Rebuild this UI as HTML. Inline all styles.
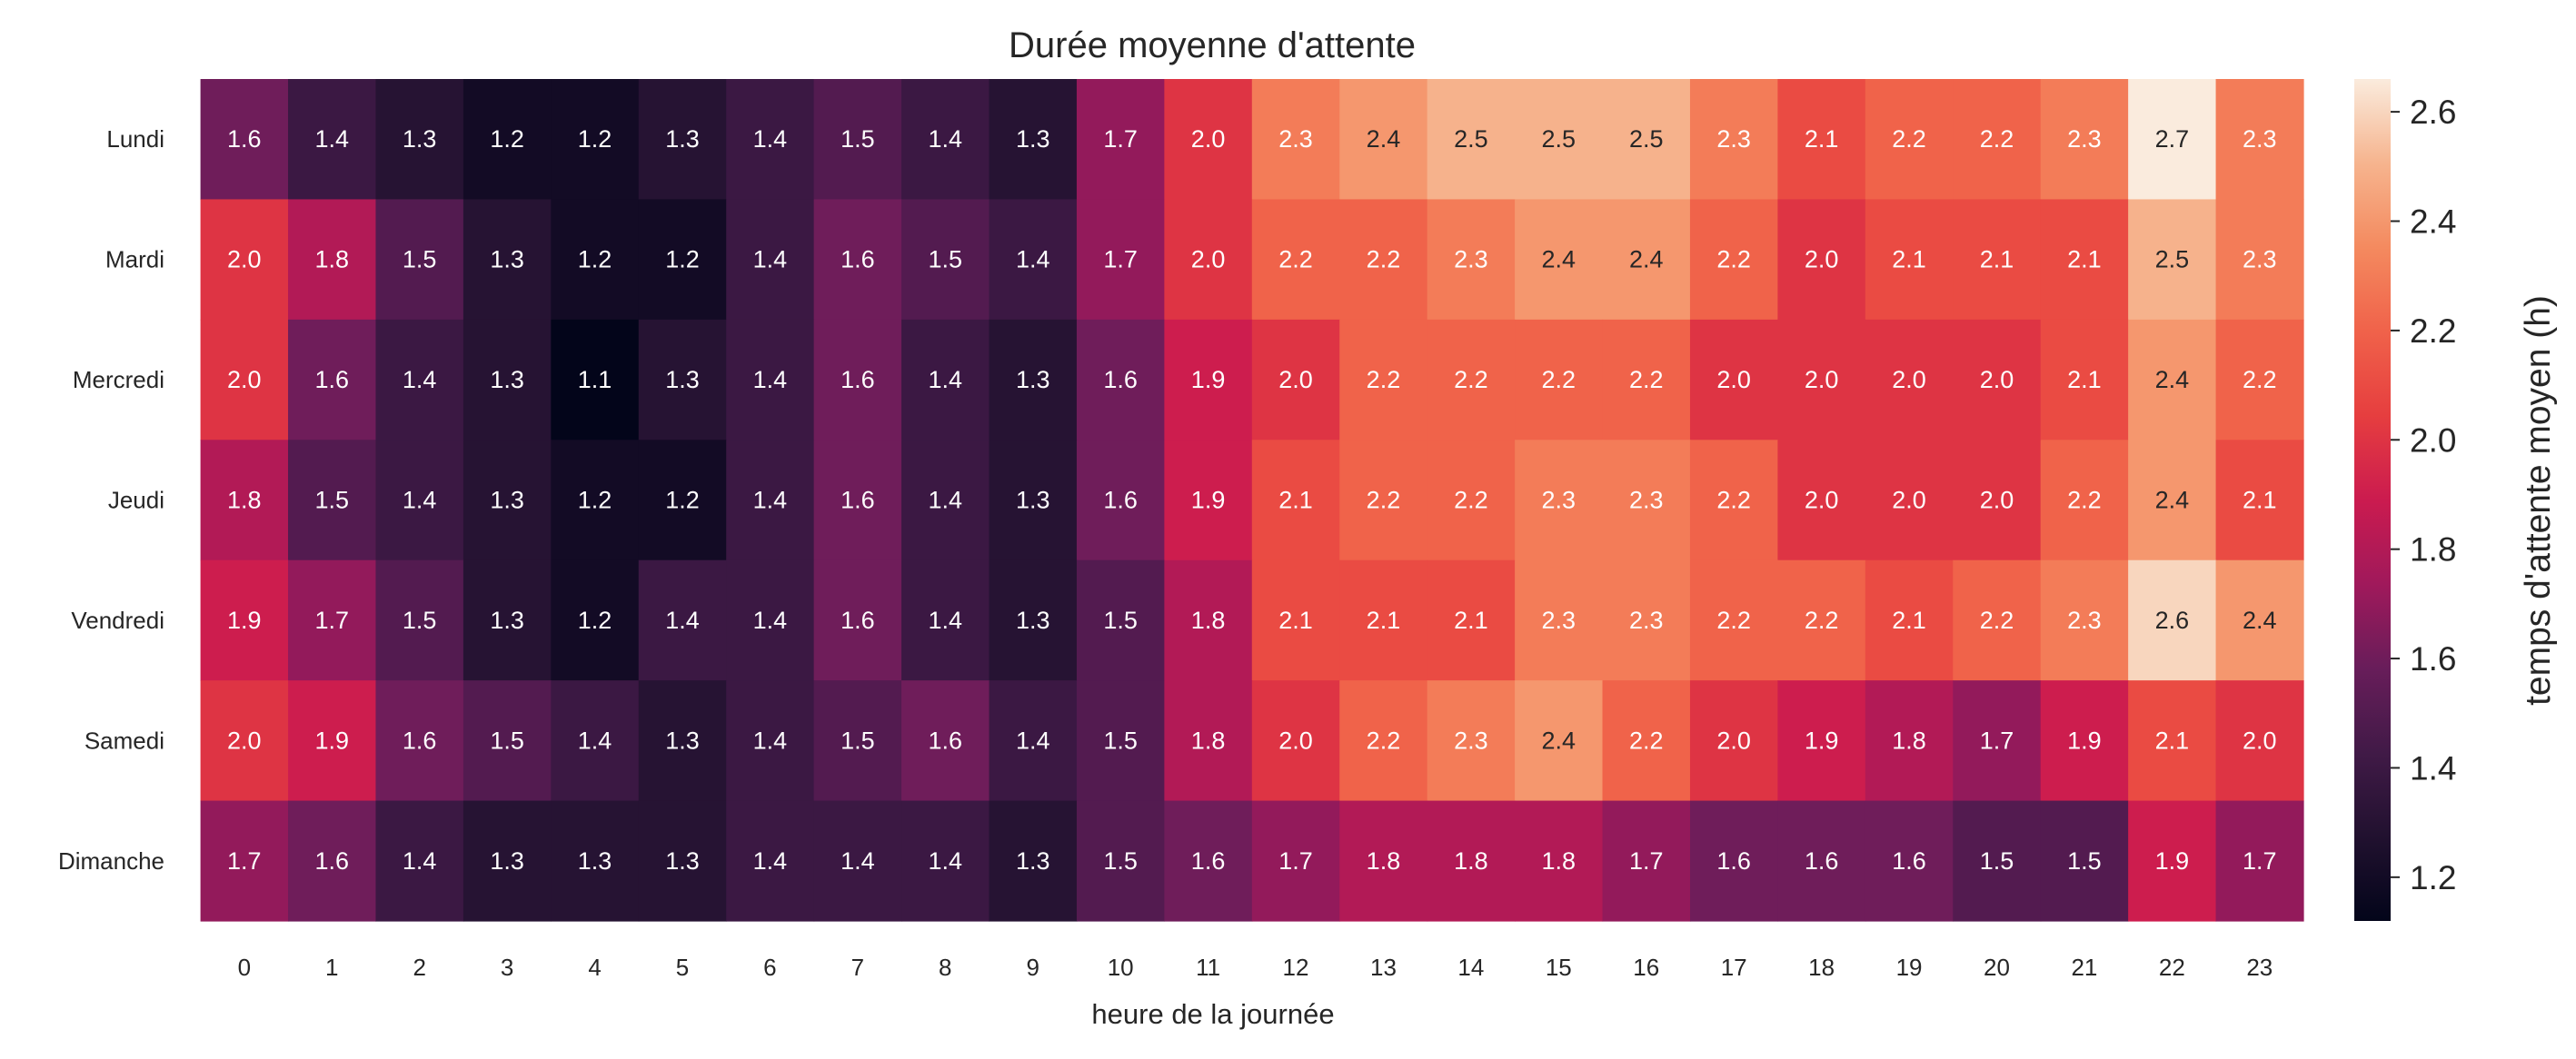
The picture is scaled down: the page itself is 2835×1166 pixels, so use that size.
<!DOCTYPE html>
<html><head><meta charset="utf-8">
<style>
html,body{margin:0;padding:0;background:#fff;}
svg{display:block;font-family:"Liberation Sans","DejaVu Sans",sans-serif;}
</style></head>
<body>
<svg id="chart" width="2835" height="1166" viewBox="0 0 2835 1166" xmlns="http://www.w3.org/2000/svg">
<text x="1334" y="63" font-size="40" text-anchor="middle" fill="#262626">Durée moyenne d'attente</text>
<g id="cells"></g>
<g id="ylabels"></g>
<g id="xlabels"></g>
<text x="1335" y="1127" font-size="31" text-anchor="middle" fill="#262626">heure de la journée</text>
<defs><linearGradient id="cbgrad" x1="0" y1="1" x2="0" y2="0"></linearGradient></defs>
<rect x="2591" y="87" width="40" height="927" fill="url(#cbgrad)"/>
<g id="cbticks"></g>
<text transform="translate(2806,551) rotate(-90)" font-size="39" text-anchor="middle" fill="#262626">temps d'attente moyen (h)</text>
</svg>
<script>
const days = ["Lundi","Mardi","Mercredi","Jeudi","Vendredi","Samedi","Dimanche"];
const hours = [0,1,2,3,4,5,6,7,8,9,10,11,12,13,14,15,16,17,18,19,20,21,22,23];
const rowLundi =    [1.6,1.4,1.3,1.2,1.2,1.3,1.4,1.5,1.4,1.3,1.7,2.0,2.3,2.4,2.5,2.5,2.5,2.3,2.1,2.2,2.2,2.3,2.7,2.3];
const rowMardi =    [2.0,1.8,1.5,1.3,1.2,1.2,1.4,1.6,1.5,1.4,1.7,2.0,2.2,2.2,2.3,2.4,2.4,2.2,2.0,2.1,2.1,2.1,2.5,2.3];
const rowMercredi = [2.0,1.6,1.4,1.3,1.1,1.3,1.4,1.6,1.4,1.3,1.6,1.9,2.0,2.2,2.2,2.2,2.2,2.0,2.0,2.0,2.0,2.1,2.4,2.2];
const rowJeudi =    [1.8,1.5,1.4,1.3,1.2,1.2,1.4,1.6,1.4,1.3,1.6,1.9,2.1,2.2,2.2,2.3,2.3,2.2,2.0,2.0,2.0,2.2,2.4,2.1];
const rowVendredi = [1.9,1.7,1.5,1.3,1.2,1.4,1.4,1.6,1.4,1.3,1.5,1.8,2.1,2.1,2.1,2.3,2.3,2.2,2.2,2.1,2.2,2.3,2.6,2.4];
const rowSamedi =   [2.0,1.9,1.6,1.5,1.4,1.3,1.4,1.5,1.6,1.4,1.5,1.8,2.0,2.2,2.3,2.4,2.2,2.0,1.9,1.8,1.7,1.9,2.1,2.0];
const rowDimanche = [1.7,1.6,1.4,1.3,1.3,1.3,1.4,1.4,1.4,1.3,1.5,1.6,1.7,1.8,1.8,1.8,1.7,1.6,1.6,1.6,1.5,1.5,1.9,1.7];
const cbTicks = [1.2,1.4,1.6,1.8,2.0,2.2,2.4,2.6];
const vmin = 1.12, vmax = 2.66;

const rows = [rowLundi,rowMardi,rowMercredi,rowJeudi,rowVendredi,rowSamedi,rowDimanche];
const NS = "http://www.w3.org/2000/svg";
const L = 220.6, R = 2535, T = 87, B = 1014;
const cw = (R-L)/hours.length, ch = (B-T)/days.length;
const xPos = i => L + i*cw;
const yPos = j => T + j*ch;
const cbY = v => B - (v-vmin)/(vmax-vmin)*(B-T);

const stops = [[0,"#03051a"],[0.1,"#21112f"],[0.2,"#411a47"],[0.3,"#681d5a"],[0.4,"#a0195b"],[0.5,"#cb1b4f"],[0.6,"#e63e3f"],[0.7,"#f0624a"],[0.8,"#f48a5f"],[0.9,"#f6b48e"],[1,"#faebdd"]];
function hex(h){return [1,3,5].map(k=>parseInt(h.substr(k,2),16));}
function cmap(t){
  t=Math.max(0,Math.min(1,t));
  for(let k=1;k<stops.length;k++){
    if(t<=stops[k][0]){
      const a=stops[k-1],b=stops[k],f=(t-a[0])/(b[0]-a[0]);
      const ca=hex(a[1]),cb=hex(b[1]);
      return ca.map((c,i)=>Math.round(c+(cb[i]-c)*f));
    }
  }
  return hex(stops[stops.length-1][1]);
}
function lum(c){const l=c.map(v=>{v/=255;return v<=0.03928?v/12.92:Math.pow((v+0.055)/1.055,2.4);});return 0.2126*l[0]+0.7152*l[1]+0.0722*l[2];}

const grad=document.getElementById('cbgrad');
stops.forEach(s=>{const st=document.createElementNS(NS,'stop');st.setAttribute('offset',s[0]);st.setAttribute('stop-color',s[1]);grad.appendChild(st);});

const cells=document.getElementById('cells');
rows.forEach((row,j)=>{
  row.forEach((v,i)=>{
    const c=cmap((v-vmin)/(vmax-vmin));
    const r=document.createElementNS(NS,'rect');
    r.setAttribute('x',xPos(i));r.setAttribute('y',yPos(j));
    r.setAttribute('width',cw+0.6);r.setAttribute('height',ch+0.6);
    r.setAttribute('fill','rgb('+c.join(',')+')');
    
    
    cells.appendChild(r);
    const t=document.createElementNS(NS,'text');
    t.setAttribute('x',xPos(i)+cw/2);t.setAttribute('y',yPos(j)+ch/2+9);
    t.setAttribute('font-size','27');t.setAttribute('text-anchor','middle');
    t.setAttribute('fill',lum(c)>0.408?'#262626':'#ffffff');
    t.textContent=v.toFixed(1);
    
    
    cells.appendChild(t);
  });
});
const yl=document.getElementById('ylabels');
days.forEach((d,j)=>{
  const t=document.createElementNS(NS,'text');
  t.setAttribute('x',181);t.setAttribute('y',yPos(j)+ch/2+9);
  t.setAttribute('font-size','26');t.setAttribute('text-anchor','end');t.setAttribute('fill','#262626');
  t.textContent=d;
  
  
  yl.appendChild(t);
});
const xl=document.getElementById('xlabels');
hours.forEach((h,i)=>{
  const t=document.createElementNS(NS,'text');
  t.setAttribute('x',xPos(i)+cw/2);t.setAttribute('y',1074);
  t.setAttribute('font-size','26');t.setAttribute('text-anchor','middle');t.setAttribute('fill','#262626');
  t.textContent=h;
  
  
  xl.appendChild(t);
});
const cbt=document.getElementById('cbticks');
cbTicks.forEach(v=>{
  const y=cbY(v);
  const ln=document.createElementNS(NS,'line');
  ln.setAttribute('x1',2631);ln.setAttribute('x2',2641);ln.setAttribute('y1',y);ln.setAttribute('y2',y);
  ln.setAttribute('stroke','#262626');ln.setAttribute('stroke-width','2');
  
  
  cbt.appendChild(ln);
  const t=document.createElementNS(NS,'text');
  t.setAttribute('x',2652);t.setAttribute('y',y+13);
  t.setAttribute('font-size','37');t.setAttribute('fill','#262626');
  t.textContent=v.toFixed(1);
  
  
  cbt.appendChild(t);
});
</script>
</body></html>
